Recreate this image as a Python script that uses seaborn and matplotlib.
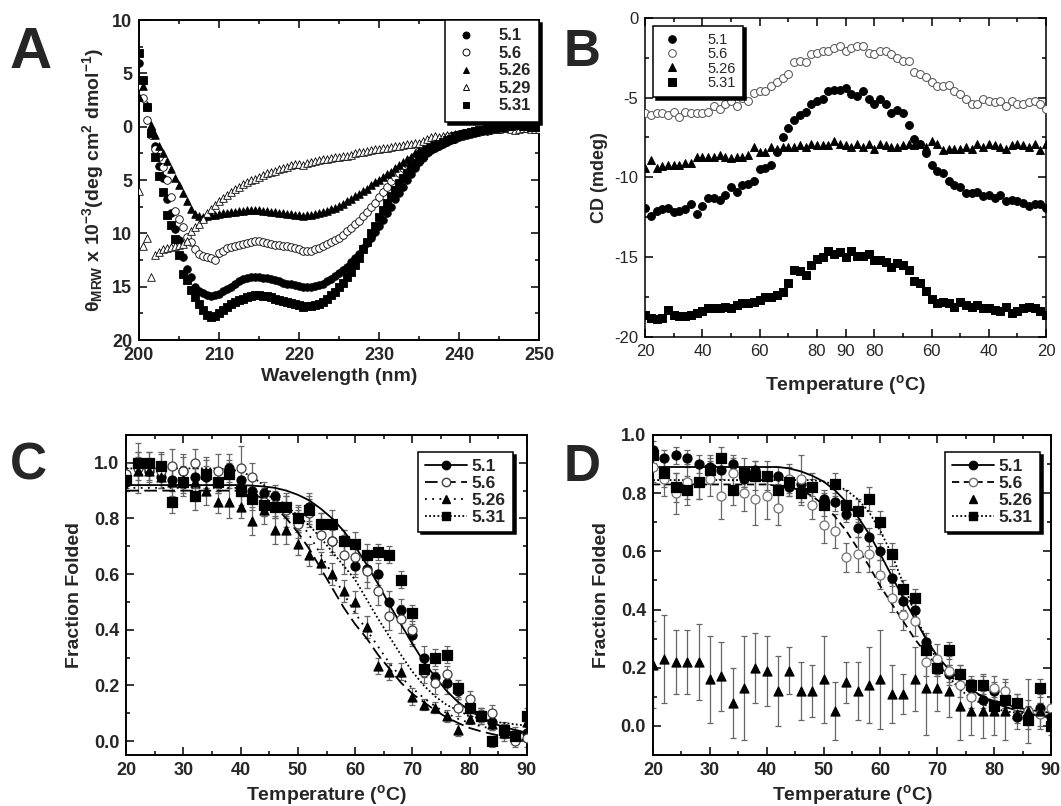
import numpy as np
import matplotlib
matplotlib.use("Agg")
import matplotlib.pyplot as plt
from matplotlib.lines import Line2D
from matplotlib.ticker import MultipleLocator
import seaborn as sns

sns.set_style("ticks")
plt.rcParams["font.family"] = ["Liberation Sans", "DejaVu Sans"]
plt.rcParams["font.weight"] = "bold"
plt.rcParams["mathtext.fontset"] = "custom"
plt.rcParams["mathtext.rm"] = "Liberation Sans"
plt.rcParams["mathtext.bf"] = "Liberation Sans:bold"
plt.rcParams["mathtext.it"] = "Liberation Sans:italic"

# ---------------- panel A: CD spectra ----------------
wavelength = [
    200.0, 200.5, 201.0, 201.5, 202.0, 202.5, 203.0, 203.5, 204.0, 204.5,
    205.0, 205.5, 206.0, 206.5, 207.0, 207.5, 208.0, 208.5, 209.0, 209.5,
    210.0, 210.5, 211.0, 211.5, 212.0, 212.5, 213.0, 213.5, 214.0, 214.5,
    215.0, 215.5, 216.0, 216.5, 217.0, 217.5, 218.0, 218.5, 219.0, 219.5,
    220.0, 220.5, 221.0, 221.5, 222.0, 222.5, 223.0, 223.5, 224.0, 224.5,
    225.0, 225.5, 226.0, 226.5, 227.0, 227.5, 228.0, 228.5, 229.0, 229.5,
    230.0, 230.5, 231.0, 231.5, 232.0, 232.5, 233.0, 233.5, 234.0, 234.5,
    235.0, 235.5, 236.0, 236.5, 237.0, 237.5, 238.0, 238.5, 239.0, 239.5,
    240.0, 240.5, 241.0, 241.5, 242.0, 242.5, 243.0, 243.5, 244.0, 244.5,
    245.0, 245.5, 246.0, 246.5, 247.0, 247.5, 248.0, 248.5, 249.0, 249.5,
    250.0]
a_51 = [
    6.0, 4.3, 1.9, -0.6, -1.8, -3.7, -4.8, -6.8, -8.1, -9.6,
    -10.6, -12.2, -13.3, -14.1, -15.0, -15.4, -15.6, -15.8, -15.9, -15.8,
    -15.7, -15.4, -15.2, -15.0, -14.7, -14.5, -14.3, -14.2, -14.1, -14.1,
    -14.1, -14.2, -14.2, -14.3, -14.4, -14.5, -14.6, -14.7, -14.7, -14.8,
    -14.9, -15.0, -15.0, -15.0, -14.9, -14.8, -14.7, -14.5, -14.3, -14.0,
    -13.7, -13.4, -13.1, -12.7, -12.3, -11.9, -11.4, -10.9, -10.4, -9.9,
    -9.3, -8.7, -8.1, -7.5, -6.8, -6.2, -5.6, -5.0, -4.4, -3.9,
    -3.3, -2.9, -2.5, -2.2, -2.0, -1.8, -1.6, -1.4, -1.2, -1.1,
    -1.0, -0.9, -0.8, -0.7, -0.6, -0.5, -0.4, -0.4, -0.3, -0.2,
    -0.2, -0.1, -0.1, 0.0, 0.0, 0.1, 0.1, 0.0, 0.0, 0.0,
    0.0]
a_56 = [
    3.8, 2.7, 0.6, -0.8, -2.1, -2.8, -3.8, -5.0, -6.6, -7.9,
    -8.6, -9.4, -10.3, -10.8, -11.5, -11.9, -12.1, -12.2, -12.3, -12.5,
    -11.8, -11.6, -11.4, -11.3, -11.2, -11.1, -11.0, -10.9, -10.8, -10.7,
    -10.7, -10.8, -10.9, -11.0, -11.1, -11.1, -11.2, -11.2, -11.3, -11.4,
    -11.5, -11.6, -11.6, -11.6, -11.5, -11.4, -11.2, -11.0, -10.8, -10.6,
    -10.4, -10.1, -9.8, -9.5, -9.1, -8.8, -8.4, -8.0, -7.5, -7.1,
    -6.6, -6.1, -5.6, -5.1, -4.7, -4.3, -3.9, -3.5, -3.1, -2.7,
    -2.3, -2.0, -1.7, -1.5, -1.4, -1.2, -1.1, -1.0, -0.9, -0.8,
    -0.7, -0.6, -0.6, -0.5, -0.4, -0.4, -0.3, -0.3, -0.2, -0.2,
    -0.1, -0.1, 0.0, 0.0, 0.1, 0.1, 0.0, 0.0, 0.0, -0.1,
    -0.1]
a_526 = [
    2.8, 3.8, 2.0, 0.2, -0.8, -1.8, -2.5, -3.2, -4.0, -4.8,
    -5.5, -6.2, -7.0, -7.7, -8.2, -8.4, -8.5, -8.4, -8.3, -8.3,
    -8.2, -8.1, -8.1, -8.0, -8.0, -7.9, -7.9, -7.8, -7.8, -7.8,
    -7.8, -7.9, -7.9, -8.0, -8.0, -8.1, -8.1, -8.2, -8.2, -8.3,
    -8.3, -8.4, -8.3, -8.3, -8.2, -8.1, -8.0, -7.9, -7.7, -7.6,
    -7.4, -7.2, -7.0, -6.8, -6.5, -6.3, -6.0, -5.8, -5.5, -5.2,
    -5.0, -4.7, -4.4, -4.2, -3.9, -3.6, -3.3, -3.0, -2.8, -2.5,
    -2.2, -2.0, -1.7, -1.5, -1.4, -1.3, -1.2, -1.1, -1.0, -0.9,
    -0.8, -0.7, -0.6, -0.5, -0.5, -0.4, -0.3, -0.3, -0.2, -0.1,
    -0.1, 0.0, 0.0, 0.1, 0.2, 0.2, 0.1, 0.1, 0.0, 0.0,
    0.0]
a_529 = [
    -6.0, -11.2, -10.4, -14.1, -12.0, -11.7, -11.5, -11.4, -11.3, -11.2,
    -11.1, -11.0, -10.7, -9.8, -9.4, -9.1, -8.6, -8.1, -7.7, -7.3,
    -7.0, -6.7, -6.4, -6.1, -5.8, -5.6, -5.4, -5.2, -5.0, -4.9,
    -4.7, -4.5, -4.3, -4.2, -4.1, -4.0, -3.9, -3.8, -3.6, -3.5,
    -3.5, -3.6, -3.4, -3.3, -3.2, -3.1, -3.0, -3.0, -2.9, -2.8,
    -2.8, -2.7, -2.7, -2.6, -2.5, -2.4, -2.4, -2.3, -2.2, -2.1,
    -2.1, -2.0, -2.0, -1.9, -1.8, -1.8, -1.7, -1.6, -1.6, -1.5,
    -1.5, -1.3, -1.1, -1.0, -0.9, -1.0, -0.9, -0.8, -0.8, -0.7,
    -0.7, -0.6, -0.5, -0.5, -0.4, -0.4, -0.3, -0.3, -0.2, -0.2,
    -0.2, -0.1, -0.1, -0.2, -0.3, -0.2, -0.1, -0.1, -0.2, -0.2,
    -0.2]
a_531 = [
    6.9, 4.4, 1.9, -0.6, -2.8, -4.6, -6.1, -8.3, -9.2, -10.5,
    -12.0, -13.8, -14.4, -15.3, -16.0, -16.6, -17.2, -17.6, -17.8, -17.7,
    -17.5, -17.2, -16.9, -16.6, -16.4, -16.2, -16.1, -16.0, -15.9, -15.8,
    -15.8, -15.9, -15.9, -16.0, -16.1, -16.2, -16.3, -16.4, -16.5, -16.6,
    -16.7, -16.9, -16.8, -16.8, -16.7, -16.6, -16.4, -16.1, -15.8, -15.5,
    -15.0, -14.6, -14.1, -13.6, -13.0, -12.3, -11.5, -10.8, -10.0, -9.3,
    -8.5, -7.8, -7.1, -6.5, -5.9, -5.3, -4.8, -4.3, -3.8, -3.4,
    -3.0, -2.6, -2.3, -2.0, -1.8, -1.6, -1.4, -1.2, -1.1, -0.9,
    -0.8, -0.7, -0.6, -0.5, -0.4, -0.3, -0.3, -0.2, -0.1, -0.1,
    0.0, 0.0, 0.1, 0.1, 0.2, 0.2, 0.1, 0.1, 0.0, 0.0,
    0.0]

# ---------------- panel B: heating / cooling scan ----------------
scan_temp = [
    20, 22, 24, 26, 28, 30, 32, 34, 36, 38, 40, 42, 44, 46, 48, 50, 52, 54,
    56, 58, 60, 62, 64, 66, 68, 70, 72, 74, 76, 78, 80, 82, 84, 86, 88, 90,
    88, 86, 84, 82, 80, 78, 76, 74, 72, 70, 68, 66, 64, 62, 60, 58, 56, 54,
    52, 50, 48, 46, 44, 42, 40, 38, 36, 34, 32, 30, 28, 26, 24, 22, 20]
b_51 = [
    -11.9, -12.4, -12.1, -12.0, -11.9, -12.2, -12.1, -12.0, -11.7, -12.3,
    -11.8, -11.3, -11.3, -11.4, -11.1, -10.6, -10.9, -10.5, -10.4, -10.2,
    -9.5, -9.4, -9.2, -8.4, -7.5, -6.9, -6.4, -6.1, -5.9, -5.4,
    -5.2, -5.1, -4.6, -4.5, -4.5, -4.4, -4.8, -4.9, -4.6, -5.1,
    -5.4, -5.1, -5.4, -6.0, -5.8, -6.0, -6.7, -7.6, -7.9, -8.5,
    -9.2, -9.6, -9.7, -10.2, -10.5, -10.6, -11.0, -11.0, -10.9, -11.2,
    -11.1, -11.3, -11.1, -11.5, -11.4, -11.5, -11.6, -11.8, -11.7, -11.7,
    -11.9]
b_56 = [
    -6.0, -6.1, -6.0, -6.0, -6.1, -5.9, -6.2, -5.9, -6.0, -6.0,
    -6.0, -5.9, -5.5, -5.7, -5.4, -5.2, -5.5, -5.0, -5.2, -4.7,
    -4.6, -4.6, -4.3, -4.0, -3.8, -3.5, -2.8, -2.7, -2.8, -2.3,
    -2.2, -2.1, -2.1, -1.9, -1.8, -2.1, -1.9, -1.8, -1.8, -2.2,
    -2.3, -2.1, -2.1, -2.3, -2.5, -2.7, -2.7, -3.4, -3.5, -3.7,
    -4.0, -4.3, -4.3, -4.2, -4.6, -4.8, -5.1, -5.4, -5.4, -5.1,
    -5.2, -5.3, -5.2, -5.5, -5.2, -5.4, -5.4, -5.3, -5.2, -5.4,
    -5.7]
b_526 = [
    -9.4, -8.9, -9.4, -9.3, -9.2, -9.2, -9.2, -9.1, -9.1, -8.7,
    -8.7, -8.7, -8.7, -8.6, -8.7, -8.8, -8.7, -8.7, -8.6, -8.1,
    -8.4, -8.4, -8.1, -8.2, -8.1, -8.1, -8.1, -8.0, -8.1, -7.9,
    -8.0, -8.0, -8.0, -7.7, -7.9, -8.0, -8.1, -7.9, -8.1, -7.9,
    -8.2, -7.9, -8.0, -8.1, -8.1, -8.0, -7.9, -8.0, -7.9, -8.1,
    -7.7, -7.9, -8.3, -8.2, -8.2, -8.2, -8.1, -8.2, -7.9, -8.1,
    -7.9, -8.0, -8.1, -8.2, -8.0, -7.9, -8.0, -8.1, -7.9, -8.3,
    -7.9]
b_531 = [
    -18.6, -18.8, -18.9, -18.8, -18.3, -18.6, -18.7, -18.7, -18.6, -18.5,
    -18.4, -18.2, -18.2, -18.2, -18.1, -18.2, -18.0, -17.9, -17.9, -17.8,
    -17.7, -17.5, -17.5, -17.4, -17.2, -16.6, -15.8, -15.9, -16.1, -15.5,
    -15.1, -15.0, -14.6, -14.8, -14.7, -15.0, -14.6, -14.9, -14.9, -14.8,
    -15.2, -15.2, -15.3, -15.6, -15.4, -15.5, -15.8, -16.5, -16.6, -17.1,
    -17.6, -17.9, -17.8, -17.9, -18.1, -17.8, -18.0, -18.1, -18.0, -18.2,
    -18.2, -18.3, -18.4, -18.1, -18.5, -18.4, -18.2, -18.1, -18.2, -18.4,
    -18.6]

# ---------------- panels C and D: fraction folded ----------------
temps = [20, 22, 24, 26, 28, 30, 32, 34, 36, 38, 40, 42, 44, 46, 48, 50, 52, 54,
         56, 58, 60, 62, 64, 66, 68, 70, 72, 74, 76, 78, 80, 82, 84, 86, 88, 90]

c_51 = [0.93, 0.99, 0.97, 0.95, 0.94, 0.97, 0.95, 0.95, 0.93, 0.98, 0.94, 0.90,
        0.89, 0.88, 0.84, 0.80, 0.84, 0.78, 0.72, 0.72, 0.63, 0.62, 0.60, 0.50,
        0.47, 0.38, 0.30, 0.23, 0.21, 0.18, 0.12, 0.09, 0.07, 0.04, 0.02, 0.03]
c_56 = [0.96, 0.98, 0.98, 0.97, 0.99, 0.97, 1.00, 0.96, 0.97, 0.96, 0.98, 0.95,
        0.86, 0.85, 0.83, 0.78, 0.82, 0.74, 0.72, 0.67, 0.66, 0.61, 0.54, 0.45,
        0.44, 0.40, 0.25, 0.21, 0.24, 0.12, 0.15, 0.09, 0.10, 0.03, 0.00, 0.01]
c_526 = [0.94, 0.97, 0.97, 0.95, 0.93, 0.94, 0.93, 0.90, 0.86, 0.86, 0.84, 0.79,
         0.83, 0.76, 0.76, 0.71, 0.67, 0.64, 0.60, 0.54, 0.50, 0.41, 0.27, 0.25,
         0.25, 0.16, 0.13, 0.12, 0.09, 0.04, 0.08, 0.09, 0.06, 0.03, 0.02, 0.07]
c_531 = [0.94, 1.00, 1.00, 0.99, 0.86, 0.93, 0.88, 0.96, 0.93, 0.96, 0.90, 0.87,
         0.85, 0.84, 0.84, 0.80, 0.83, 0.78, 0.78, 0.72, 0.71, 0.67, 0.68, 0.67,
         0.58, 0.46, 0.26, 0.30, 0.31, 0.19, 0.12, 0.09, 0.00, 0.04, 0.02, 0.09]
c_err_51 = [0.03, 0.05, 0.03, 0.04, 0.04, 0.05, 0.04, 0.04, 0.04, 0.05, 0.04, 0.04,
            0.04, 0.04, 0.04, 0.04, 0.05, 0.04, 0.04, 0.04, 0.04, 0.05, 0.04, 0.04,
            0.04, 0.04, 0.04, 0.03, 0.04, 0.03, 0.03, 0.03, 0.03, 0.03, 0.03, 0.03]
c_err_56 = [0.04, 0.09, 0.06, 0.06, 0.06, 0.06, 0.05, 0.06, 0.06, 0.05, 0.08, 0.05,
            0.05, 0.05, 0.06, 0.05, 0.05, 0.05, 0.05, 0.07, 0.06, 0.06, 0.05, 0.05,
            0.05, 0.05, 0.04, 0.04, 0.03, 0.03, 0.03, 0.03, 0.03, 0.03, 0.02, 0.03]
c_err_526 = [0.04, 0.05, 0.04, 0.04, 0.05, 0.05, 0.05, 0.05, 0.04, 0.06, 0.04, 0.05,
             0.05, 0.05, 0.05, 0.04, 0.04, 0.04, 0.04, 0.04, 0.04, 0.04, 0.03, 0.03,
             0.03, 0.03, 0.02, 0.02, 0.02, 0.02, 0.02, 0.02, 0.02, 0.02, 0.02, 0.02]
c_err_531 = [0.03, 0.04, 0.04, 0.05, 0.04, 0.05, 0.05, 0.05, 0.04, 0.04, 0.05, 0.04,
             0.04, 0.04, 0.04, 0.05, 0.05, 0.04, 0.05, 0.04, 0.04, 0.04, 0.03, 0.03,
             0.03, 0.03, 0.03, 0.03, 0.03, 0.03, 0.03, 0.03, 0.02, 0.02, 0.02, 0.03]
c_fit_51 = [0.92, 0.92, 0.92, 0.92, 0.92, 0.92, 0.92, 0.92, 0.92, 0.92, 0.92, 0.918,
            0.915, 0.91, 0.90, 0.885, 0.865, 0.835, 0.80, 0.755, 0.70, 0.635, 0.565, 0.49,
            0.42, 0.35, 0.285, 0.23, 0.18, 0.14, 0.11, 0.085, 0.065, 0.05, 0.04, 0.03]
c_fit_56 = [0.90, 0.90, 0.90, 0.90, 0.90, 0.90, 0.90, 0.90, 0.90, 0.90, 0.90, 0.89,
            0.87, 0.84, 0.80, 0.75, 0.69, 0.62, 0.55, 0.48, 0.42, 0.37, 0.31, 0.26,
            0.21, 0.17, 0.14, 0.11, 0.085, 0.065, 0.047, 0.035, 0.025, 0.016, 0.009, 0.003]
c_fit_526 = [0.91, 0.91, 0.91, 0.91, 0.91, 0.91, 0.91, 0.91, 0.91, 0.91, 0.91, 0.90,
             0.89, 0.87, 0.84, 0.80, 0.74, 0.67, 0.60, 0.53, 0.46, 0.40, 0.34, 0.28,
             0.23, 0.19, 0.155, 0.125, 0.10, 0.08, 0.065, 0.053, 0.044, 0.037, 0.031, 0.027]
c_fit_531 = [0.98, 0.98, 0.98, 0.98, 0.98, 0.98, 0.98, 0.98, 0.98, 0.975, 0.97, 0.95,
             0.92, 0.88, 0.845, 0.81, 0.775, 0.73, 0.68, 0.63, 0.58, 0.51, 0.44, 0.375,
             0.31, 0.25, 0.20, 0.16, 0.13, 0.11, 0.09, 0.08, 0.07, 0.065, 0.06, 0.055]

d_51 = [0.95, 0.92, 0.93, 0.92, 0.90, 0.89, 0.88, 0.90, 0.85, 0.88, 0.86, 0.86,
        0.82, 0.83, 0.82, 0.78, 0.77, 0.73, 0.68, 0.65, 0.60, 0.51, 0.43, 0.40,
        0.29, 0.20, 0.18, 0.18, 0.13, 0.09, 0.12, 0.09, 0.03, 0.05, 0.06, 0.03]
d_56 = [0.89, 0.85, 0.80, 0.84, 0.84, 0.85, 0.79, 0.87, 0.80, 0.78, 0.79, 0.75,
        0.85, 0.85, 0.76, 0.69, 0.67, 0.58, 0.59, 0.59, 0.52, 0.44, 0.38, 0.36,
        0.22, 0.23, 0.19, 0.14, 0.10, 0.14, 0.13, 0.12, 0.07, 0.05, 0.04, 0.06]
d_526 = [0.21, 0.23, 0.22, 0.22, 0.22, 0.16, 0.17, 0.08, 0.13, 0.20, 0.19, 0.12,
         0.19, 0.12, 0.12, 0.16, 0.05, 0.15, 0.12, 0.14, 0.16, 0.11, 0.11, 0.16,
         0.13, 0.13, 0.12, 0.07, 0.05, 0.05, 0.05, 0.05, 0.04, 0.05, 0.05, 0.03]
d_531 = [0.93, 0.87, 0.82, 0.81, 0.84, 0.88, 0.92, 0.81, 0.87, 0.86, 0.86, 0.81,
         0.84, 0.80, 0.82, 0.76, 0.83, 0.76, 0.74, 0.78, 0.70, 0.59, 0.47, 0.44,
         0.26, 0.20, 0.26, 0.18, 0.14, 0.14, 0.07, 0.09, 0.08, 0.02, 0.13, 0.00]
d_err_51 = [0.03, 0.03, 0.03, 0.03, 0.03, 0.03, 0.03, 0.03, 0.03, 0.03, 0.03, 0.03,
            0.03, 0.03, 0.03, 0.03, 0.03, 0.03, 0.03, 0.03, 0.03, 0.03, 0.03, 0.03,
            0.03, 0.03, 0.03, 0.03, 0.03, 0.03, 0.03, 0.03, 0.02, 0.02, 0.02, 0.02]
d_err_56 = [0.05, 0.06, 0.07, 0.06, 0.06, 0.06, 0.08, 0.05, 0.06, 0.09, 0.08, 0.06,
            0.05, 0.08, 0.05, 0.06, 0.06, 0.05, 0.06, 0.06, 0.05, 0.05, 0.05, 0.05,
            0.05, 0.05, 0.05, 0.04, 0.04, 0.04, 0.04, 0.04, 0.04, 0.04, 0.04, 0.04]
d_err_526 = [0.15, 0.15, 0.11, 0.11, 0.13, 0.15, 0.12, 0.12, 0.18, 0.12, 0.12, 0.12,
             0.08, 0.10, 0.09, 0.15, 0.10, 0.07, 0.10, 0.13, 0.17, 0.10, 0.07, 0.11,
             0.16, 0.08, 0.09, 0.12, 0.08, 0.09, 0.08, 0.10, 0.05, 0.11, 0.06, 0.04]
d_err_531 = [0.03, 0.05, 0.05, 0.05, 0.06, 0.05, 0.04, 0.05, 0.05, 0.05, 0.05, 0.05,
             0.05, 0.04, 0.05, 0.04, 0.04, 0.05, 0.04, 0.04, 0.04, 0.04, 0.03, 0.03,
             0.03, 0.03, 0.03, 0.03, 0.03, 0.03, 0.03, 0.03, 0.03, 0.03, 0.03, 0.03]
d_fit_51 = [0.89, 0.89, 0.89, 0.89, 0.89, 0.89, 0.89, 0.89, 0.89, 0.89, 0.89, 0.89,
            0.885, 0.875, 0.86, 0.84, 0.81, 0.77, 0.72, 0.66, 0.59, 0.515, 0.44, 0.37,
            0.30, 0.24, 0.195, 0.155, 0.125, 0.10, 0.08, 0.065, 0.053, 0.043, 0.035, 0.028]
d_fit_56 = [0.83, 0.83, 0.83, 0.83, 0.83, 0.83, 0.83, 0.83, 0.83, 0.83, 0.83, 0.825,
            0.82, 0.81, 0.79, 0.76, 0.72, 0.67, 0.61, 0.55, 0.48, 0.42, 0.36, 0.30,
            0.25, 0.21, 0.175, 0.145, 0.12, 0.10, 0.085, 0.073, 0.063, 0.056, 0.05, 0.045]
d_fit_531 = [0.845, 0.845, 0.845, 0.845, 0.845, 0.845, 0.845, 0.845, 0.845, 0.845, 0.845, 0.845,
             0.845, 0.845, 0.845, 0.84, 0.83, 0.81, 0.78, 0.735, 0.67, 0.59, 0.49, 0.39,
             0.30, 0.225, 0.17, 0.125, 0.095, 0.075, 0.06, 0.05, 0.045, 0.04, 0.037, 0.035]

labels4 = ["5.1", "5.6", "5.26", "5.31"]


def frame(ax, lw=1.4):
    for sp in ax.spines.values():
        sp.set_linewidth(lw)
        sp.set_color("black")
    ax.tick_params(which="both", direction="in", top=True, right=True,
                   color="black", width=1.1)
    ax.tick_params(which="major", length=6, pad=5)
    ax.tick_params(which="minor", length=3)


def boxed_legend(ax, handles, labels, **kw):
    leg = ax.legend(handles, labels, fancybox=False, frameon=True,
                    shadow={"color": "black", "alpha": 1.0}, **kw)
    leg.get_frame().set_edgecolor("black")
    leg.get_frame().set_linewidth(1.1)
    leg.get_frame().set_alpha(1.0)
    return leg


fig = plt.figure(figsize=(10.61, 8.06), dpi=100)

# ---- A ----
axA = fig.add_axes([0.131, 0.578, 0.377, 0.397])
specA = [("5.1", a_51, "o", "black"), ("5.6", a_56, "o", "white"),
         ("5.26", a_526, "^", "black"), ("5.29", a_529, "^", "white"),
         ("5.31", a_531, "s", "black")]
for name, vals, mk, fc in specA:
    sns.scatterplot(x=wavelength, y=vals, marker=mk, s=30, color=fc,
                    edgecolor="black", linewidth=0.6, legend=False, ax=axA, zorder=3)
axA.set_xlim(200, 250)
axA.set_ylim(-20, 10)
axA.set_xticks([200, 210, 220, 230, 240, 250])
axA.xaxis.set_minor_locator(MultipleLocator(5))
axA.set_yticks([-20, -15, -10, -5, 0, 5, 10],
               labels=["20", "15", "10", "5", "0", "5", "10"])
axA.yaxis.set_minor_locator(MultipleLocator(2.5))
frame(axA)
axA.tick_params(labelsize=13)
axA.set_xlabel("Wavelength (nm)", fontsize=14, fontweight="bold", labelpad=3)
axA.set_ylabel(r"θ$_{\mathbf{MRW}}$ x 10$^{\mathbf{-3}}$(deg cm$^{\mathbf{2}}$ dmol$^{\mathbf{-1}}$)",
               fontsize=14, fontweight="bold", labelpad=4)
hA = [Line2D([], [], ls="none", marker=mk, ms=5, mfc=fc, mec="black", mew=0.7)
      for _, _, mk, fc in specA]
boxed_legend(axA, hA, [s[0] for s in specA], loc="upper right", borderaxespad=0,
             labelspacing=0.15, handletextpad=1.2, borderpad=0.5,
             handlelength=1.5, prop={"weight": "bold", "size": 12})

# ---- B ----
axB = fig.add_axes([0.608, 0.582, 0.378, 0.396])
idx = list(range(len(scan_temp)))
specB = [("5.1", b_51, "o", "black"), ("5.6", b_56, "o", "white"),
         ("5.26", b_526, "^", "black"), ("5.31", b_531, "s", "black")]
for name, vals, mk, fc in specB:
    sns.scatterplot(x=idx, y=vals, marker=mk, s=32, color=fc,
                    edgecolor="black" if fc == "black" else "0.3", linewidth=0.7,
                    legend=False, ax=axB, zorder=3)
axB.set_xlim(0, len(scan_temp) - 1)
axB.set_ylim(-20, 0)
btick = [0, 10, 20, 30, 35, 40, 50, 60, 70]
axB.set_xticks(btick, labels=[str(scan_temp[i]) for i in btick], fontweight="normal")
axB.set_xticks([5, 15, 25, 45, 55, 65], minor=True)
axB.set_yticks([0, -5, -10, -15, -20], labels=["0", "-5", "-10", "-15", "-20"],
               fontweight="normal")
axB.yaxis.set_minor_locator(MultipleLocator(2.5))
frame(axB, lw=1.1)
axB.tick_params(labelsize=12)
axB.set_xlabel(r"Temperature ($^{\mathbf{o}}$C)", fontsize=14, fontweight="bold", labelpad=10)
axB.set_ylabel("CD (mdeg)", fontsize=13, fontweight="bold", labelpad=4)
hB = [Line2D([], [], ls="none", marker=mk, ms=5.5, mfc=fc, mec="black" if fc == "black" else "0.3",
             mew=0.7) for _, _, mk, fc in specB]
boxed_legend(axB, hB, [s[0] for s in specB], loc="upper left", bbox_to_anchor=(0.02, 0.975),
             borderaxespad=0, labelspacing=0.02, handletextpad=1.6, borderpad=0.5,
             handlelength=1.6, prop={"weight": "normal", "size": 10.5})


def melt_panel(ax, data, errs, fits, styles, open_color):
    for (vals, err, fit, (mk, fc, ls)) in zip(data, errs, fits, styles):
        ax.errorbar(temps, vals, yerr=err, fmt="none", ecolor="0.4", elinewidth=0.9,
                    capsize=2.5, capthick=0.9, zorder=1)
        if fit is not None:
            sns.lineplot(x=temps, y=fit, color="black", linestyle=ls, linewidth=1.3,
                         errorbar=None, legend=False, ax=ax, zorder=2)
        ec = "black" if fc == "black" else open_color
        sns.scatterplot(x=temps, y=vals, marker=mk, s=42, color=fc, edgecolor=ec,
                        linewidth=0.9, legend=False, ax=ax, zorder=3)


def melt_axes(ax, ylim):
    ax.set_xlim(20, 90)
    ax.set_ylim(*ylim)
    ax.set_xticks([20, 30, 40, 50, 60, 70, 80, 90])
    ax.xaxis.set_minor_locator(MultipleLocator(5))
    ax.set_yticks([0.0, 0.2, 0.4, 0.6, 0.8, 1.0],
                  labels=["0.0", "0.2", "0.4", "0.6", "0.8", "1.0"])
    ax.yaxis.set_minor_locator(MultipleLocator(0.1))
    frame(ax)
    ax.tick_params(labelsize=13)
    ax.set_xlabel(r"Temperature ($^{\mathbf{o}}$C)", fontsize=14, fontweight="bold", labelpad=3)
    ax.set_ylabel("Fraction Folded", fontsize=14, fontweight="bold", labelpad=8)


dash = (0, (7, 3))
sparse_dot = (0, (1, 3))
dense_dot = (0, (1, 1.3))

# ---- C ----
axC = fig.add_axes([0.119, 0.0633, 0.3775, 0.397])
stylesC = [("o", "black", "-"), ("o", "white", dash), ("^", "black", sparse_dot),
           ("s", "black", dense_dot)]
melt_panel(axC, [c_51, c_56, c_526, c_531], [c_err_51, c_err_56, c_err_526, c_err_531],
           [c_fit_51, c_fit_56, c_fit_526, c_fit_531], stylesC, "0.25")
melt_axes(axC, (-0.05, 1.10))
hC = [Line2D([], [], color="black", lw=1.3, ls=ls, marker=mk, ms=6, mfc=fc,
             mec="black" if fc == "black" else "0.25") for mk, fc, ls in stylesC]
boxed_legend(axC, hC, labels4, loc="upper right", bbox_to_anchor=(0.965, 0.947),
             borderaxespad=0, labelspacing=0.1, handletextpad=0.3, borderpad=0.4,
             handlelength=2.4, prop={"weight": "bold", "size": 12.5})

# ---- D ----
axD = fig.add_axes([0.6155, 0.0633, 0.375, 0.397])
stylesD = [("o", "black", "-"), ("o", "white", (0, (4, 2.5))), ("^", "black", "none"),
           ("s", "black", dense_dot)]
melt_panel(axD, [d_51, d_56, d_526, d_531], [d_err_51, d_err_56, d_err_526, d_err_531],
           [d_fit_51, d_fit_56, None, d_fit_531], stylesD, "0.45")
melt_axes(axD, (-0.1, 1.0))
hD = [Line2D([], [], color="black", lw=1.3, ls=ls, marker=mk, ms=6, mfc=fc,
             mec="black" if fc == "black" else "0.45") for mk, fc, ls in stylesD]
boxed_legend(axD, hD, labels4, loc="upper right", bbox_to_anchor=(0.972, 0.947),
             borderaxespad=0, labelspacing=0.1, handletextpad=0.3, borderpad=0.4,
             handlelength=2.4, prop={"weight": "bold", "size": 12.5})

# panel letters
fig.text(0.009, 0.9156, "A", fontsize=42, fontweight="bold", va="baseline")
fig.text(0.5316, 0.918, "B", fontsize=37, fontweight="bold", va="baseline")
fig.text(0.009, 0.4045, "C", fontsize=37, fontweight="bold", va="baseline")
fig.text(0.5316, 0.403, "D", fontsize=37, fontweight="bold", va="baseline")

fig.savefig("out.png", dpi=100, facecolor="white")
